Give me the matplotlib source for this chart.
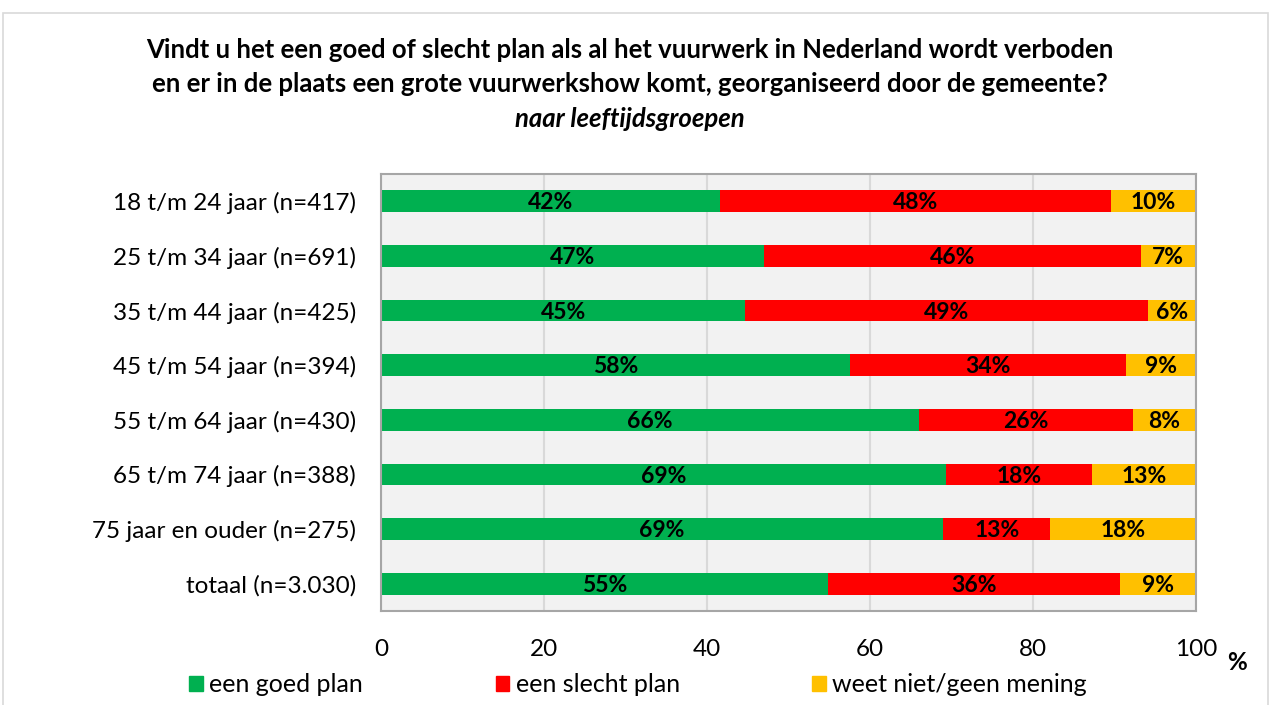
import matplotlib.pyplot as plt
from matplotlib.patches import Patch, Rectangle

plt.rcParams["font.family"] = ["Lato", "DejaVu Sans"]

groups = [
    "18 t/m 24 jaar (n=417)",
    "25 t/m 34 jaar (n=691)",
    "35 t/m 44 jaar (n=425)",
    "45 t/m 54 jaar (n=394)",
    "55 t/m 64 jaar (n=430)",
    "65 t/m 74 jaar (n=388)",
    "75 jaar en ouder (n=275)",
    "totaal (n=3.030)",
]
goed = [41.6, 47.0, 44.7, 57.6, 66.0, 69.3, 69.0, 54.9]
slecht = [48.0, 46.2, 49.4, 33.8, 26.3, 18.0, 13.1, 35.8]
weet_niet = [10.4, 6.8, 5.9, 8.6, 7.7, 12.7, 17.9, 9.3]

series = [
    ("een goed plan", goed, "#00B050"),
    ("een slecht plan", slecht, "#FF0000"),
    ("weet niet/geen mening", weet_niet, "#FFC000"),
]
xticks = [0, 20, 40, 60, 80, 100]

fig = plt.figure(figsize=(12.72, 7.05), dpi=100)
fig.patches.append(Rectangle((3 / 1272, -0.05), 1265 / 1272, 1.05 - 13 / 705,
                             transform=fig.transFigure, fill=False,
                             edgecolor="#D9D9D9", linewidth=1.2))

ax = fig.add_axes([381 / 1272, 94 / 705, 815 / 1272, 437 / 705])
ax.set_facecolor("#F2F2F2")

ypos = list(range(len(groups)))
left = [0] * len(groups)
for name, vals, color in series:
    bars = ax.barh(ypos, vals, left=left, height=0.4, color=color, label=name)
    for b, v in zip(bars, vals):
        ax.text(b.get_x() + b.get_width() / 2, b.get_y() + b.get_height() / 2 + 0.03,
                f"{v:.0f}%", ha="center", va="center", fontsize=16.5,
                fontweight="bold", color="black")
    left = [l + v for l, v in zip(left, vals)]

ax.set_xlim(0, 100)
ax.set_ylim(len(groups) - 0.5, -0.5)
ax.set_yticks(ypos)
ax.set_yticklabels(groups, fontsize=17.5)
ax.set_xticks(xticks)
ax.set_xticklabels([str(t) for t in xticks], fontsize=17.5)
ax.tick_params(axis="both", length=0)
ax.tick_params(axis="y", pad=18)
ax.tick_params(axis="x", pad=20)
ax.grid(axis="x", color="#D9D9D9", linewidth=1.5)
ax.set_axisbelow(True)
for sp in ax.spines.values():
    sp.set_color("#A6A6A6")
    sp.set_linewidth(1.5)

fig.text(1237 / 1272, 1 - 662 / 705, "%", ha="center", va="center",
         fontsize=17.5, fontweight="bold")

fig.text(630 / 1272, 1 - 50 / 705,
         "Vindt u het een goed of slecht plan als al het vuurwerk in Nederland wordt verboden",
         ha="center", va="center", fontsize=18.5, fontweight="bold")
fig.text(630 / 1272, 1 - 84 / 705,
         "en er in de plaats een grote vuurwerkshow komt, georganiseerd door de gemeente?",
         ha="center", va="center", fontsize=18.5, fontweight="bold")
fig.text(630 / 1272, 1 - 119 / 705, "naar leeftijdsgroepen",
         ha="center", va="center", fontsize=18.5, fontweight="bold", style="italic")

handles = [Patch(color=c, label=n) for n, _, c in series]
fig.legend(handles=handles, loc="center", bbox_to_anchor=(638 / 1272, 1 - 685 / 705),
           ncol=3, frameon=False, fontsize=18, handlelength=0.55, handleheight=0.55,
           handletextpad=0.25, columnspacing=5.3, borderpad=0)

fig.savefig("out.png", dpi=100)
